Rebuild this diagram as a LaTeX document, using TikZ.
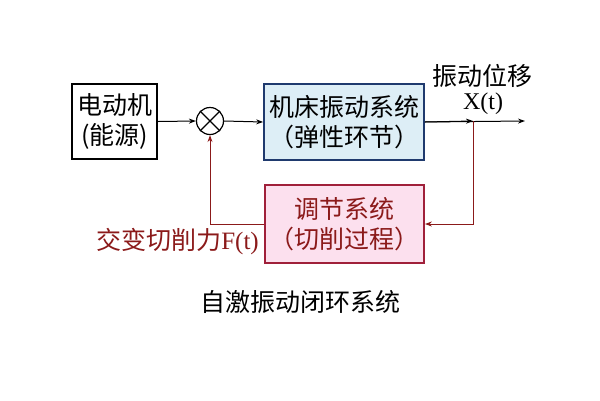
\documentclass[tikz,border=0pt]{standalone}
\usepackage{fontspec}
\setmainfont{Liberation Serif}
\newfontfamily\cjk{Noto Sans CJK SC}
\usetikzlibrary{arrows.meta}
\definecolor{fb}{HTML}{8B1A1A}
\definecolor{bluefill}{HTML}{DDEEF6}
\definecolor{blueedge}{HTML}{1F3A6E}
\definecolor{pinkfill}{HTML}{FCE0EE}
\definecolor{pinkedge}{HTML}{A0203A}
\begin{document}
\begin{tikzpicture}[x=1pt,y=-1pt,
  txt/.style={font=\cjk\fontsize{25}{30}\selectfont,align=center,inner sep=0pt},
  box/.style={txt,draw,line width=1.8pt},
  arr/.style={-{Stealth[length=7pt,width=5pt]},line width=1pt}]
\useasboundingbox (0,0) rectangle (600,400);
\node[box,minimum width=85pt,minimum height=75pt] (m) at (114.5,121.5) {电动机\\(能源)};
\node[draw,circle,minimum size=27pt,line width=1.2pt,inner sep=0pt] (s) at (210,121) {};
\draw[line width=1.2pt] (s.north west) -- (s.south east) (s.north east) -- (s.south west);
\node[box,draw=blueedge,fill=bluefill,minimum width=160pt,minimum height=76pt] (v) at (344,122) {机床振动系统\\（弹性环节）};
\node[box,draw=pinkedge,fill=pinkfill,minimum width=159pt,minimum height=78pt,text=fb] (r) at (344.5,224) {调节系统\\（切削过程）};
\coordinate (o) at (525,121);
\coordinate (b) at (473,121);
\draw[arr] (m.east) -- (s.west);
\draw[arr] (s.east) -- (v.west);
\draw[arr] (v.east) -- (o);
\draw[arr] (v.east) -- (b);
\draw[arr,fb] (b) |- (r.east);
\draw[arr,fb] (r.west) -| (s.south);
\node[txt] at (482,76) {振动位移};
\node[inner sep=0pt,font=\fontsize{24}{27}\selectfont] at (483,104) {X(t)};
\node[txt,text=fb,anchor=east] at (259,242) {交变切削力\fontspec{Liberation Serif}F(t)};
\node[txt] at (300,302) {自激振动闭环系统};
\end{tikzpicture}
\end{document}
